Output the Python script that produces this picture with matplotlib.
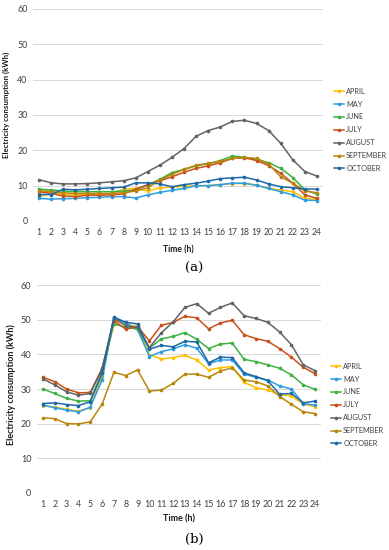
import matplotlib
matplotlib.use("Agg")
import matplotlib.pyplot as plt

hours = list(range(1, 25))
months = ["APRIL", "MAY", "JUNE", "JULY", "AUGUST", "SEPTEMBER", "OCTOBER"]
colors = ["#FFC000", "#2E9DE3", "#3DB142", "#C8501A", "#646464", "#B8860B", "#1F68A8"]

# (a)
a_april = [6.9, 7.8, 7.6, 7.4, 7.5, 7.5, 7.8, 9.0, 9.2, 8.5, 9.4, 9.6, 9.8, 10.0, 10.0, 10.3, 10.6, 10.6, 10.2, 9.2, 8.8, 8.3, 6.4, 6.1]
a_may = [6.4, 6.2, 6.3, 6.4, 6.6, 6.7, 6.9, 6.9, 6.5, 7.4, 8.1, 8.7, 9.2, 10.0, 10.0, 10.3, 10.7, 10.7, 10.1, 9.2, 8.3, 7.4, 5.9, 5.8]
a_june = [9.0, 8.8, 8.5, 8.3, 8.3, 8.3, 8.3, 8.5, 8.8, 10.2, 11.8, 13.7, 14.6, 15.6, 16.2, 17.1, 18.4, 18.0, 17.5, 16.5, 14.9, 12.3, 8.8, 7.6]
a_july = [8.3, 7.8, 7.1, 6.9, 7.3, 7.3, 7.4, 7.7, 9.0, 10.3, 11.4, 12.5, 13.8, 14.9, 15.6, 16.5, 17.7, 17.9, 17.1, 15.7, 13.5, 10.7, 7.4, 6.4]
a_august = [11.7, 10.8, 10.5, 10.5, 10.6, 10.8, 11.1, 11.4, 12.2, 14.0, 15.8, 18.0, 20.5, 24.0, 25.6, 26.6, 28.2, 28.5, 27.6, 25.6, 22.0, 17.3, 14.0, 12.7]
a_september = [8.6, 8.3, 8.0, 7.8, 7.8, 7.8, 7.8, 8.0, 8.5, 9.4, 11.6, 13.2, 14.6, 15.8, 16.3, 16.9, 17.7, 18.0, 17.7, 16.1, 12.5, 10.7, 8.5, 8.0]
a_october = [7.5, 7.5, 9.0, 8.8, 9.0, 9.2, 9.4, 9.6, 10.8, 10.8, 10.5, 9.7, 10.3, 10.7, 11.3, 12.0, 12.2, 12.4, 11.6, 10.5, 9.7, 9.4, 9.1, 9.0]

# (b)
b_april = [25.1, 24.8, 24.1, 23.6, 24.6, 33.6, 50.0, 48.6, 48.1, 39.9, 38.7, 39.1, 39.7, 38.4, 35.5, 36.2, 36.5, 31.9, 30.4, 29.7, 28.4, 28.0, 25.6, 24.9]
b_may = [25.3, 24.6, 23.9, 23.4, 24.7, 32.6, 50.5, 49.1, 47.1, 39.4, 40.8, 41.6, 42.8, 41.8, 37.3, 38.4, 38.4, 34.3, 33.4, 32.6, 30.9, 30.0, 25.8, 25.3]
b_june = [30.0, 28.7, 27.3, 26.5, 26.6, 35.0, 48.8, 47.9, 47.3, 41.8, 44.5, 45.2, 46.3, 44.4, 41.7, 43.0, 43.3, 38.6, 37.9, 37.0, 36.0, 34.1, 31.2, 29.9]
b_july = [33.4, 32.1, 30.0, 28.9, 29.0, 36.0, 49.8, 47.3, 48.1, 43.9, 48.4, 49.3, 51.0, 50.6, 47.4, 49.1, 49.9, 45.7, 44.6, 43.8, 41.7, 39.2, 36.3, 34.4]
b_august = [32.9, 31.2, 29.2, 28.2, 28.7, 35.7, 50.5, 48.3, 47.8, 42.0, 46.2, 49.4, 53.6, 54.7, 51.9, 53.6, 54.9, 51.2, 50.4, 49.3, 46.5, 42.8, 37.0, 35.3]
b_september = [21.7, 21.4, 20.0, 19.9, 20.5, 25.6, 34.8, 33.9, 35.5, 29.4, 29.7, 31.6, 34.3, 34.3, 33.4, 35.2, 36.1, 32.6, 32.1, 30.9, 27.8, 25.6, 23.4, 22.9]
b_october = [25.8, 26.0, 25.5, 25.2, 26.3, 34.5, 50.8, 49.3, 48.8, 41.5, 42.6, 42.2, 43.8, 43.6, 37.6, 39.2, 39.1, 34.7, 33.6, 32.4, 28.5, 28.7, 26.0, 26.5]

yticks = [0, 10, 20, 30, 40, 50, 60]

W, H = 389, 550
fig = plt.figure(figsize=(W / 100, H / 100), dpi=100)
fig.patch.set_facecolor("white")

FONT = "Lato"
TXT = "#404040"


def make_axes(px_left, px_right, px_top, px_bottom):
    return fig.add_axes([px_left / W, 1 - px_bottom / H, (px_right - px_left) / W, (px_bottom - px_top) / H])


def style(ax, series, legend_top, legend_left, caption, caption_y, xlabel_y,
          ylab_x, ylab_y, ylab_size, tick_size):
    for data, name, c in zip(series, months, colors):
        ax.plot(hours, data, color=c, lw=1.1, marker="o", ms=1.6, label=name)
    ax.set_xlim(0.5, 24.5)
    ax.set_ylim(0, 60)
    ax.set_yticks(yticks)
    ax.set_xticks(hours)
    ax.set_xticklabels([str(h) for h in hours], fontsize=tick_size, family=FONT, color=TXT)
    ax.set_yticklabels([str(v) for v in yticks], fontsize=tick_size + 0.2, family=FONT, color=TXT)
    ax.tick_params(length=0, pad=4)
    ax.tick_params(axis="x", pad=5)
    for s in ax.spines.values():
        s.set_visible(False)
    ax.grid(axis="y", color="#D9D9D9", lw=0.7)
    ax.set_axisbelow(True)
    fig.text(ylab_x / W, 1 - ylab_y / H, "Electricity consumption (kWh)", rotation=90,
             ha="center", va="center", fontsize=ylab_size, family=FONT, fontweight="bold",
             color="#1a1a1a")
    bb = ax.get_position()
    fig.text((bb.x0 + bb.x1) / 2, 1 - xlabel_y / H, "Time (h)", ha="center", va="center",
             fontsize=tick_size, family=FONT, fontweight="bold", color="#1a1a1a")
    fig.text(0.5, 1 - caption_y / H, caption, ha="center", va="center", fontsize=9.5,
             family="DejaVu Serif")
    leg = ax.legend(loc="upper left", bbox_to_anchor=(legend_left / W, 1 - legend_top / H),
                    bbox_transform=fig.transFigure, frameon=False, borderpad=0,
                    handlelength=1.4, handletextpad=0.3, labelspacing=0.8,
                    prop={"family": FONT, "size": 5.3})
    for t in leg.get_texts():
        t.set_color(TXT)


ax1 = make_axes(33, 323, 9, 221)
style(ax1, [a_april, a_may, a_june, a_july, a_august, a_september, a_october],
      84, 330, "(a)", 268, 250, 6.5, 105, 5.7, 6.2)

ax2 = make_axes(37, 321, 285.3, 492.7)
style(ax2, [b_april, b_may, b_june, b_july, b_august, b_september, b_october],
      359, 327, "(b)", 539, 519, 11.5, 385, 6.5, 6.4)

fig.savefig("out.png", dpi=100, facecolor="white")
